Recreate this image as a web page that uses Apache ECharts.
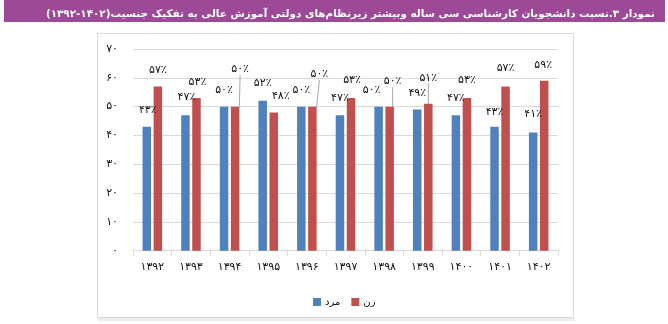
<!DOCTYPE html>
<html>
<head>
<meta charset="utf-8">
<script src="https://cdn.jsdelivr.net/npm/echarts@6/dist/echarts.min.js"></script>
<style>
  html, body { margin: 0; padding: 0; background: #ffffff; }
  #chart { width: 668px; height: 324px; }
</style>
</head>
<body>
<div id="chart" dir="rtl"></div>
<script>
// Academic years (Solar Hijri)
const years = ['۱۳۹۲', '۱۳۹۳', '۱۳۹۴', '۱۳۹۵', '۱۳۹۶', '۱۳۹۷', '۱۳۹۸', '۱۳۹۹', '۱۴۰۰', '۱۴۰۱', '۱۴۰۲'];
// Share of students (percent) by gender
const menShare = [43, 47, 50, 52, 50, 47, 50, 49, 47, 43, 41];
const womenShare = [57, 53, 50, 48, 50, 53, 50, 51, 53, 57, 59];
// Value-axis tick labels, 0..70 step 10
const yTickLabels = ['۰', '۱۰', '۲۰', '۳۰', '۴۰', '۵۰', '۶۰', '۷۰'];

const seriesNames = ['مرد', 'زن'];
const titleText = 'نمودار ۳.نسبت دانشجویان کارشناسی سی ساله وبیشتر زیرنظام‌های دولتی آموزش عالی به تفکیک جنسیت(۱۴۰۲-۱۳۹۲)';

// Hand-placed label nudges [dx, dy] measured from each bar's top centre
const menLabelShift = [[1, -17], [1, -18], [0, -16], [0, -18], [0, -16], [0, -17], [-7, -16], [0, -16], [0, -17], [0, -15], [0, -18]];
const womenLabelShift = [[0, -16], [1, -16], [5, -37], [7, -16], [7, -32], [1, -18], [3, -25], [0, -26], [0, -18], [0, -18], [-1, -16]];
// Labels pulled away from their bar get a leader line
const womenLeader = [2, 4, 6, 7];

const FONT = 'DejaVu Sans';
const persianDigits = '۰۱۲۳۴۵۶۷۸۹';
const toPersian = (n) => String(n).replace(/[0-9]/g, (d) => persianDigits[+d]);

// Fit the header title into the purple band
const TITLE_WIDTH = 610;
function fitTitleSize() {
  const ctx = document.createElement('canvas').getContext('2d');
  ctx.font = 'bold 13px "' + FONT + '"';
  const w = ctx.measureText(titleText).width;
  return Math.min(14, 13 * TITLE_WIDTH / w);
}
const titleSize = fitTitleSize();

function buildItems(values, shifts, leaders) {
  return values.map((v, i) => {
    const item = {
      value: v,
      label: { offset: shifts[i] }
    };
    if (leaders && leaders.indexOf(i) >= 0) {
      item.labelLine = { show: true, lineStyle: { color: '#a6a6a6', width: 1 } };
    }
    return item;
  });
}

const barLabel = {
  show: true,
  position: ['50%', 0],
  align: 'center',
  verticalAlign: 'middle',
  fontFamily: FONT,
  fontSize: 11,
  color: '#111',
  formatter: (p) => toPersian(p.value) + '٪'
};

const chart = echarts.init(document.getElementById('chart'), null, { renderer: 'canvas' });

chart.setOption({
  animation: false,
  backgroundColor: '#ffffff',
  title: {
    text: titleText,
    right: 8,
    top: 11 - titleSize * 0.62,
    textStyle: { color: '#ffffff', fontSize: titleSize, fontWeight: 'bold', fontFamily: FONT }
  },
  graphic: [
    { type: 'rect', z: -1, shape: { x: 4, y: 0, width: 661, height: 22 }, style: { fill: '#9c4a98' } },
    { type: 'rect', z: -1, shape: { x: 98, y: 318, width: 477, height: 3 }, style: { fill: '#ececec' } },
    { type: 'rect', z: -1, shape: { x: 97.5, y: 33.5, width: 476, height: 284 }, style: { fill: 'none', stroke: '#d9d9d9', lineWidth: 1 } }
  ],
  legend: {
    data: seriesNames,
    left: 308,
    top: 292,
    itemWidth: 8,
    itemHeight: 8,
    itemGap: 11,
    icon: 'rect',
    textStyle: { fontFamily: FONT, fontSize: 10, color: '#111', padding: [0, 0, 0, -1] }
  },
  grid: { left: 133, right: 110, top: 49, bottom: 73.3, containLabel: false },
  xAxis: {
    type: 'category',
    data: years,
    boundaryGap: true,
    axisLine: { lineStyle: { color: '#d9d9d9' } },
    axisTick: { show: true, length: 5, lineStyle: { color: '#d9d9d9' } },
    axisLabel: { fontFamily: FONT, fontSize: 11, color: '#111', margin: 11 }
  },
  yAxis: {
    type: 'value',
    min: 0,
    max: 70,
    interval: 10,
    axisLine: { show: false },
    axisTick: { show: false },
    splitLine: { lineStyle: { color: '#d9d9d9' } },
    axisLabel: {
      fontFamily: FONT, fontSize: 11, color: '#111', margin: 15,
      formatter: (v) => yTickLabels[Math.round(v / 10)]
    }
  },
  series: [
    {
      name: seriesNames[0],
      type: 'bar',
      barWidth: 8.5,
      barGap: '30%',
      itemStyle: { color: '#4f81bd' },
      label: barLabel,
      data: buildItems(menShare, menLabelShift, null)
    },
    {
      name: seriesNames[1],
      type: 'bar',
      barWidth: 8.5,
      barGap: '30%',
      itemStyle: { color: '#c0504d' },
      label: barLabel,
      data: buildItems(womenShare, womenLabelShift, womenLeader)
    }
  ]
});
</script>
</body>
</html>
